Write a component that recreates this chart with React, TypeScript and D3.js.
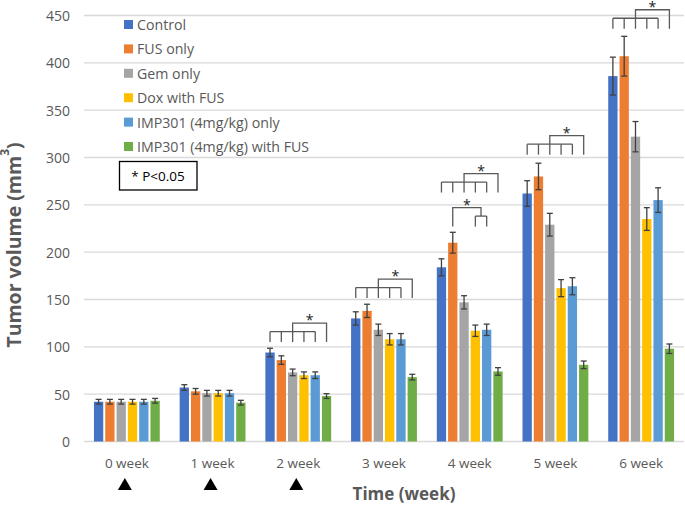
import React from "react";
import * as d3 from "d3";

// ── Data ─────────────────────────────────────────────────────────────────────
const WEEKS = ["0 week", "1 week", "2 week", "3 week", "4 week", "5 week", "6 week"];
const GROUPS = [
  "Control",
  "FUS only",
  "Gem only",
  "Dox with FUS",
  "IMP301 (4mg/kg) only",
  "IMP301 (4mg/kg) with FUS",
];
const COLORS = ["#4472C4", "#ED7D31", "#A5A5A5", "#FFC000", "#5B9BD5", "#70AD47"];

// mean tumour volume per group, one entry per week
const CONTROL = [42, 57, 94, 130, 184, 262, 386];
const FUS_ONLY = [42, 53, 86, 138, 210, 280, 407];
const GEM_ONLY = [42, 51, 73, 118, 147, 229, 322];
const DOX_FUS = [42, 51, 70, 108, 117, 162, 235];
const IMP_ONLY = [42, 51, 70, 108, 118, 164, 255];
const IMP_FUS = [43, 41, 48, 68, 74, 81, 98];
const MEANS = [CONTROL, FUS_ONLY, GEM_ONLY, DOX_FUS, IMP_ONLY, IMP_FUS];

// error bar half-lengths
const CONTROL_ERR = [2.5, 3, 4.5, 7, 9, 13.5, 20];
const FUS_ONLY_ERR = [2.5, 3, 4.5, 7, 11, 14, 21];
const GEM_ONLY_ERR = [2.5, 3, 3.5, 6, 7, 12, 16];
const DOX_FUS_ERR = [2.5, 3, 3.5, 6, 6, 9, 12];
const IMP_ONLY_ERR = [2.5, 3, 3.5, 6, 6, 9, 13];
const IMP_FUS_ERR = [2.5, 2.5, 2.5, 3, 4, 4, 5];
const ERRORS = [CONTROL_ERR, FUS_ONLY_ERR, GEM_ONLY_ERR, DOX_FUS_ERR, IMP_ONLY_ERR, IMP_FUS_ERR];

// significance brackets: legs bracketed together, compared against partner
const BRACKETS = [
  { week: 2, legs: [0, 1, 2, 3, 4], partner: 5, base: 105 },
  { week: 3, legs: [0, 1, 2, 3, 4], partner: 5, base: 151.5 },
  { week: 4, legs: [0, 1, 2, 3, 4], partner: 5, base: 263 },
  { week: 4, legs: [3, 4], partner: 1, base: 227 },
  { week: 5, legs: [0, 1, 2, 3, 4], partner: 5, base: 303 },
  { week: 6, legs: [0, 1, 2, 3, 4], partner: 5, base: 436 },
];

const DOSE_WEEKS = ["0 week", "1 week", "2 week"];
const Y_TICKS = [0, 50, 100, 150, 200, 250, 300, 350, 400, 450];

// ── Layout ───────────────────────────────────────────────────────────────────
const W = 685;
const H = 507;
const LEFT = 84;
const RIGHT = 684;
const TOP = 15.5;
const BOTTOM = 441.5;

const FONT = "'Open Sans', 'Noto Sans', sans-serif";
const TEXT = "#595959";
const INK = "#404040";

export default function App() {
  const x = d3.scaleBand<string>().domain(WEEKS).range([LEFT, RIGHT]).paddingInner(0.232).paddingOuter(0.116);
  const xs = d3
    .scaleBand<number>()
    .domain(d3.range(GROUPS.length))
    .range([0, x.bandwidth()])
    .paddingInner(0.177)
    .paddingOuter(0);
  const y = d3.scaleLinear().domain([0, 450]).range([BOTTOM, TOP]);

  const barCx = (w: number, g: number) => (x(WEEKS[w]) ?? 0) + (xs(g) ?? 0) + xs.bandwidth() / 2;

  return (
    <div style={{ position: "absolute", left: 0, top: 0 }}>
      <svg width={W} height={H} style={{ display: "block", background: "#fff" }} fontFamily={FONT}>
        {/* gridlines */}
        {Y_TICKS.map((t) => (
          <g key={t}>
            <line x1={LEFT} x2={RIGHT} y1={y(t)} y2={y(t)} stroke="#D9D9D9" strokeWidth={1.3} />
            <text x={70} y={y(t)} textAnchor="end" dominantBaseline="central" fontSize={14} fill={TEXT}>
              {t}
            </text>
          </g>
        ))}

        {/* bars */}
        {WEEKS.map((wk, w) => (
          <g key={wk}>
            {GROUPS.map((grp, g) => {
              const v = MEANS[g][w];
              const e = ERRORS[g][w];
              const x0 = (x(wk) ?? 0) + (xs(g) ?? 0);
              const cx = x0 + xs.bandwidth() / 2;
              return (
                <g key={grp}>
                  <rect x={x0} y={y(v)} width={xs.bandwidth()} height={y(0) - y(v)} fill={COLORS[g]} />
                  <g stroke={INK} strokeWidth={1.3}>
                    <line x1={cx} x2={cx} y1={y(v + e)} y2={y(v - e)} />
                    <line x1={cx - 3} x2={cx + 3} y1={y(v + e)} y2={y(v + e)} />
                    <line x1={cx - 3} x2={cx + 3} y1={y(v - e)} y2={y(v - e)} />
                  </g>
                </g>
              );
            })}
            <text
              x={(x(wk) ?? 0) + x.bandwidth() / 2}
              y={463}
              textAnchor="middle"
              dominantBaseline="central"
              fontSize={13.5}
              fill={TEXT}
            >
              {wk}
            </text>
          </g>
        ))}

        {/* significance brackets */}
        {BRACKETS.map((b, i) => {
          const bottom = y(b.base);
          const lower = bottom - 10.5;
          const upper = lower - 8.5;
          const legX = b.legs.map((g) => barCx(b.week, g));
          const mid = (legX[0] + legX[legX.length - 1]) / 2;
          const px = barCx(b.week, b.partner);
          return (
            <g key={i} fill="none" stroke={TEXT} strokeWidth={1.3}>
              <line x1={legX[0]} x2={legX[legX.length - 1]} y1={lower} y2={lower} />
              {legX.map((lx, j) => (
                <line key={j} x1={lx} x2={lx} y1={lower} y2={bottom} />
              ))}
              <path d={`M${mid},${lower}V${upper}H${px}V${bottom}`} />
              <text
                x={(mid + px) / 2}
                y={upper - 3.5}
                textAnchor="middle"
                dominantBaseline="central"
                fontSize={14}
                fill="#222"
                stroke="none"
              >
                *
              </text>
            </g>
          );
        })}

        {/* dosing markers */}
        {DOSE_WEEKS.map((wk) => {
          const cx = (x(wk) ?? 0) + x.bandwidth() / 2 - 2;
          return <path key={wk} d={`M${cx - 7},490L${cx + 7},490L${cx},478Z`} fill="#000" />;
        })}

        {/* legend */}
        {GROUPS.map((grp, g) => {
          const ly = 24.5 + g * 24.4;
          return (
            <g key={grp}>
              <rect x={124} y={ly - 4.5} width={9} height={9} fill={COLORS[g]} />
              <text x={137} y={ly} dominantBaseline="central" fontSize={14.2} fill={TEXT}>
                {grp}
              </text>
            </g>
          );
        })}

        {/* p-value box */}
        <rect x={119.5} y={161.5} width={77.5} height={28.5} fill="#fff" stroke="#000" strokeWidth={1.3} />
        <text x={158} y={176} textAnchor="middle" dominantBaseline="central" fontSize={13.5} fill="#000">
          * P&lt;0.05
        </text>

        {/* axis titles */}
        <text x={404} y={493} textAnchor="middle" dominantBaseline="central" fontSize={17} fontWeight="bold" fill={TEXT}>
          Time (week)
        </text>
        <text
          transform={`translate(13,245) rotate(-90)`}
          textAnchor="middle"
          dominantBaseline="central"
          fontSize={19.5}
          fontWeight="bold"
          fill={TEXT}
        >
          Tumor volume (mm<tspan baselineShift="super" fontSize={12}>3</tspan>)
        </text>
      </svg>
    </div>
  );
}
